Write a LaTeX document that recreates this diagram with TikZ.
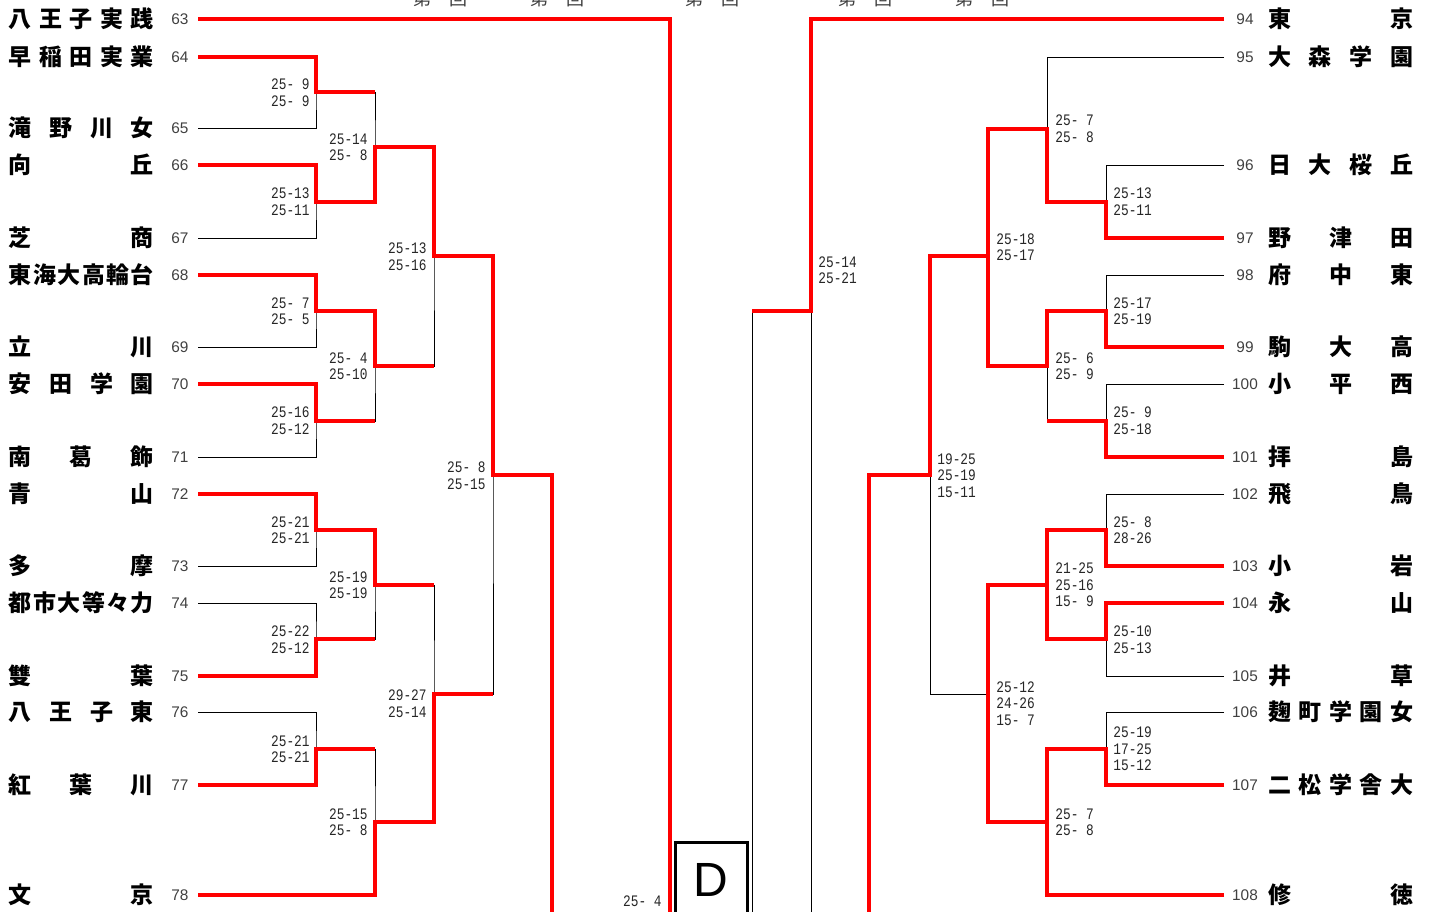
\documentclass[tikz,border=0pt]{standalone}
\usepackage{fontspec}
\usepackage{xcolor}
\usepackage{tikz}
\usetikzlibrary{positioning}
\newfontfamily\cjk{Noto Sans CJK JP}
\newfontfamily\scf{Liberation Mono}[FakeStretch=0.8]
\newfontfamily\numf{Liberation Sans}
\definecolor{numgray}{HTML}{404040}
\newcommand{\spr}[1]{\makebox[72.5pt][s]{#1}}

\begin{document}
\begin{tikzpicture}[x=0.5pt, y=-0.5pt,
  win/.style={draw=red, line width=2pt},
  lose/.style={draw=black, line width=0.5pt},
  tname/.style={inner sep=0pt, outer sep=0pt, font=\cjk\bfseries\fontsize{11.5}{12}\selectfont},
  lname/.style={tname, anchor=west},
  seed/.style={inner sep=0pt, outer sep=0pt, text=numgray, font=\numf\fontsize{7.7}{8}\selectfont},
  lseed/.style={seed, minimum width=18pt},
  rseed/.style={seed, minimum width=21pt},
  lscore/.style={inner sep=0pt, anchor=east, align=right, text=black!85, font=\scf\fontsize{8}{8.25}\selectfont},
  rscore/.style={lscore, anchor=west, align=left},
  roundhdr/.style={inner sep=0pt, text=numgray, font=\cjk\fontsize{9}{9}\selectfont},
  dbox/.style={draw, line width=1.5pt, minimum width=36pt, minimum height=38pt, font=\numf\fontsize{24}{24}\selectfont}
]
  \useasboundingbox (0,0) rectangle (1430,911);

  % round headings (cut by the top edge)
  \node[roundhdr] (h1) at (440,-1) {\makebox[27pt][s]{第\hfill 回}};
  \node[roundhdr] (h2) at (557,-1) {\makebox[27pt][s]{第\hfill 回}};
  \node[roundhdr] (h3) at (712,-1) {\makebox[27pt][s]{第\hfill 回}};
  \node[roundhdr] (h4) at (865,-1) {\makebox[27pt][s]{第\hfill 回}};
  \node[roundhdr] (h5) at (982,-1) {\makebox[27pt][s]{第\hfill 回}};

  % left teams
  \node[lname] (t63) at (9,19) {\spr{八\hfill 王\hfill 子\hfill 実\hfill 践}};
  \node[lname] (t64) at (9,57) {\spr{早\hfill 稲\hfill 田\hfill 実\hfill 業}};
  \node[lname] (t65) at (9,128) {\spr{滝\hfill 野\hfill 川\hfill 女}};
  \node[lname] (t66) at (9,165) {\spr{向\hfill 丘}};
  \node[lname] (t67) at (9,238) {\spr{芝\hfill 商}};
  \node[lname] (t68) at (9,275) {\spr{東\hfill 海\hfill 大\hfill 高\hfill 輪\hfill 台}};
  \node[lname] (t69) at (9,347) {\spr{立\hfill 川}};
  \node[lname] (t70) at (9,384) {\spr{安\hfill 田\hfill 学\hfill 園}};
  \node[lname] (t71) at (9,457) {\spr{南\hfill 葛\hfill 飾}};
  \node[lname] (t72) at (9,494) {\spr{青\hfill 山}};
  \node[lname] (t73) at (9,566) {\spr{多\hfill 摩}};
  \node[lname] (t74) at (9,603) {\spr{都\hfill 市\hfill 大\hfill 等\hfill 々\hfill 力}};
  \node[lname] (t75) at (9,676) {\spr{雙\hfill 葉}};
  \node[lname] (t76) at (9,712) {\spr{八\hfill 王\hfill 子\hfill 東}};
  \node[lname] (t77) at (9,785) {\spr{紅\hfill 葉\hfill 川}};
  \node[lname] (t78) at (9,895) {\spr{文\hfill 京}};

  \node[lseed] (n63) at (180,19) {63};
  \node[lseed] (n64) at (180,57) {64};
  \node[lseed] (n65) at (180,128) {65};
  \node[lseed] (n66) at (180,165) {66};
  \node[lseed] (n67) at (180,238) {67};
  \node[lseed] (n68) at (180,275) {68};
  \node[lseed] (n69) at (180,347) {69};
  \node[lseed] (n70) at (180,384) {70};
  \node[lseed] (n71) at (180,457) {71};
  \node[lseed] (n72) at (180,494) {72};
  \node[lseed] (n73) at (180,566) {73};
  \node[lseed] (n74) at (180,603) {74};
  \node[lseed] (n75) at (180,676) {75};
  \node[lseed] (n76) at (180,712) {76};
  \node[lseed] (n77) at (180,785) {77};
  \node[lseed] (n78) at (180,895) {78};

  % right teams
  \node[lname] (t94) at (1268,19) {\spr{東\hfill 京}};
  \node[lname] (t95) at (1268,57) {\spr{大\hfill 森\hfill 学\hfill 園}};
  \node[lname] (t96) at (1268,165) {\spr{日\hfill 大\hfill 桜\hfill 丘}};
  \node[lname] (t97) at (1268,238) {\spr{野\hfill 津\hfill 田}};
  \node[lname] (t98) at (1268,275) {\spr{府\hfill 中\hfill 東}};
  \node[lname] (t99) at (1268,347) {\spr{駒\hfill 大\hfill 高}};
  \node[lname] (t100) at (1268,384) {\spr{小\hfill 平\hfill 西}};
  \node[lname] (t101) at (1268,457) {\spr{拝\hfill 島}};
  \node[lname] (t102) at (1268,494) {\spr{飛\hfill 鳥}};
  \node[lname] (t103) at (1268,566) {\spr{小\hfill 岩}};
  \node[lname] (t104) at (1268,603) {\spr{永\hfill 山}};
  \node[lname] (t105) at (1268,676) {\spr{井\hfill 草}};
  \node[lname] (t106) at (1268,712) {\spr{麹\hfill 町\hfill 学\hfill 園\hfill 女}};
  \node[lname] (t107) at (1268,785) {\spr{二\hfill 松\hfill 学\hfill 舎\hfill 大}};
  \node[lname] (t108) at (1268,895) {\spr{修\hfill 徳}};

  \node[rseed] (n94) at (1245,19) {94};
  \node[rseed] (n95) at (1245,57) {95};
  \node[rseed] (n96) at (1245,165) {96};
  \node[rseed] (n97) at (1245,238) {97};
  \node[rseed] (n98) at (1245,275) {98};
  \node[rseed] (n99) at (1245,347) {99};
  \node[rseed] (n100) at (1245,384) {100};
  \node[rseed] (n101) at (1245,457) {101};
  \node[rseed] (n102) at (1245,494) {102};
  \node[rseed] (n103) at (1245,566) {103};
  \node[rseed] (n104) at (1245,603) {104};
  \node[rseed] (n105) at (1245,676) {105};
  \node[rseed] (n106) at (1245,712) {106};
  \node[rseed] (n107) at (1245,785) {107};
  \node[rseed] (n108) at (1245,895) {108};

  % match points
  \coordinate (L1) at (316,92);
  \coordinate (L2) at (316,202);
  \coordinate (L3) at (375,147);
  \coordinate (L4) at (316,311);
  \coordinate (L5) at (316,421);
  \coordinate (L6) at (375,366);
  \coordinate (L7) at (434,256);
  \coordinate (L8) at (316,530);
  \coordinate (L9) at (316,639);
  \coordinate (L10) at (375,585);
  \coordinate (L11) at (316,749);
  \coordinate (L12) at (375,822);
  \coordinate (L13) at (434,694);
  \coordinate (L14) at (493,475);
  \coordinate (lf) at (552,920);
  \coordinate (ld) at (670,920);

  \coordinate (R1) at (1106,202);
  \coordinate (R2) at (1047,129);
  \coordinate (R3) at (1106,311);
  \coordinate (R4) at (1106,421);
  \coordinate (R5) at (1047,366);
  \coordinate (R6) at (988,256);
  \coordinate (R7) at (1106,530);
  \coordinate (R8) at (1106,639);
  \coordinate (R9) at (1047,585);
  \coordinate (R10) at (1106,749);
  \coordinate (R11) at (1047,822);
  \coordinate (R12) at (988,694);
  \coordinate (R13) at (930,475);
  \coordinate (rf) at (869,920);
  \coordinate (F) at (811,311);
  \coordinate (rb) at (811,920);
  \coordinate (rc) at (752,920);

  % bracket lines
  \draw[lose] (n64.east) -| (L1) |- (n65.east);
  \draw[lose] (n66.east) -| (L2) |- (n67.east);
  \draw[lose] (L1) -| (L3) |- (L2);
  \draw[lose] (n68.east) -| (L4) |- (n69.east);
  \draw[lose] (n70.east) -| (L5) |- (n71.east);
  \draw[lose] (L4) -| (L6) |- (L5);
  \draw[lose] (L3) -| (L7) |- (L6);
  \draw[lose] (n72.east) -| (L8) |- (n73.east);
  \draw[lose] (n74.east) -| (L9) |- (n75.east);
  \draw[lose] (L8) -| (L10) |- (L9);
  \draw[lose] (n76.east) -| (L11) |- (n77.east);
  \draw[lose] (L11) -| (L12) |- (n78.east);
  \draw[lose] (L10) -| (L13) |- (L12);
  \draw[lose] (L7) -| (L14) |- (L13);

  \draw[lose] (n96.west) -| (R1) |- (n97.west);
  \draw[lose] (n95.west) -| (R2) |- (R1);
  \draw[lose] (n98.west) -| (R3) |- (n99.west);
  \draw[lose] (n100.west) -| (R4) |- (n101.west);
  \draw[lose] (R3) -| (R5) |- (R4);
  \draw[lose] (R2) -| (R6) |- (R5);
  \draw[lose] (n102.west) -| (R7) |- (n103.west);
  \draw[lose] (n104.west) -| (R8) |- (n105.west);
  \draw[lose] (R7) -| (R9) |- (R8);
  \draw[lose] (n106.west) -| (R10) |- (n107.west);
  \draw[lose] (R10) -| (R11) |- (n108.west);
  \draw[lose] (R9) -| (R12) |- (R11);
  \draw[lose] (R6) -| (R13) |- (R12);
  \draw[lose] (rc) |- (F) -- (rb);

  % winners
  \draw[win] (n63.east) -| (ld);
  \draw[win] (n64.east) -| (L1) -- (L1 -| L3);
  \draw[win] (n66.east) -| (L2) -| (L3) -| (L7) -| (L14) -| (lf);
  \draw[win] (n68.east) -| (L4) -| (L6) -- (L6 -| L7);
  \draw[win] (n70.east) -| (L5) -- (L5 -| L6);
  \draw[win] (n72.east) -| (L8) -| (L10) -- (L10 -| L13);
  \draw[win] (n75.east) -| (L9) -- (L9 -| L10);
  \draw[win] (n77.east) -| (L11) -- (L11 -| L12);
  \draw[win] (n78.east) -| (L12) -| (L13) -- (L13 -| L14);

  \draw[win] (n94.west) -| (F) -- (F -| rc);
  \draw[win] (n97.west) -| (R1) -| (R2) -| (R6) -| (R13) -| (rf);
  \draw[win] (n99.west) -| (R3) -| (R5) -| (R6);
  \draw[win] (n101.west) -| (R4) -- (R4 -| R5);
  \draw[win] (n103.west) -| (R7) -| (R9) -| (R12);
  \draw[win] (n104.west) -| (R8) -| (R9);
  \draw[win] (n107.west) -| (R10) -| (R11) -| (R12);
  \draw[win] (n108.west) -| (R11);

  % scores
  \node[lscore] (sL1) at (310,92.5) {25-~9\\25-~9};
  \node[lscore] (sL2) at (310,201.5) {25-13\\25-11};
  \node[lscore] (sL3) at (368,147) {25-14\\25-~8};
  \node[lscore] (sL4) at (310,311) {25-~7\\25-~5};
  \node[lscore] (sL5) at (310,420.5) {25-16\\25-12};
  \node[lscore] (sL6) at (368,366) {25-~4\\25-10};
  \node[lscore] (sL7) at (427,256.5) {25-13\\25-16};
  \node[lscore] (sL8) at (310,530) {25-21\\25-21};
  \node[lscore] (sL9) at (310,639.5) {25-22\\25-12};
  \node[lscore] (sL10) at (368,585) {25-19\\25-19};
  \node[lscore] (sL11) at (310,749) {25-21\\25-21};
  \node[lscore] (sL12) at (368,822) {25-15\\25-~8};
  \node[lscore] (sL13) at (427,703.5) {29-27\\25-14};
  \node[lscore] (sL14) at (486,475.5) {25-~8\\25-15};
  \node[lscore] (sLd) at (662,901) {25-~4};

  \node[rscore] (sR1) at (1113,201.5) {25-13\\25-11};
  \node[rscore] (sR2) at (1055,128.5) {25-~7\\25-~8};
  \node[rscore] (sR3) at (1113,311) {25-17\\25-19};
  \node[rscore] (sR4) at (1113,420.5) {25-~9\\25-18};
  \node[rscore] (sR5) at (1055,366) {25-~6\\25-~9};
  \node[rscore] (sR6) at (996,247) {25-18\\25-17};
  \node[rscore] (sR7) at (1113,530) {25-~8\\28-26};
  \node[rscore] (sR8) at (1113,639.5) {25-10\\25-13};
  \node[rscore] (sR9) at (1055,585) {21-25\\25-16\\15-~9};
  \node[rscore] (sR10) at (1113,749) {25-19\\17-25\\15-12};
  \node[rscore] (sR11) at (1055,822) {25-~7\\25-~8};
  \node[rscore] (sR12) at (996,703.5) {25-12\\24-26\\15-~7};
  \node[rscore] (sR13) at (937,475.5) {19-25\\25-19\\15-11};
  \node[rscore] (sF) at (818,270) {25-14\\25-21};

  % block letter
  \node[dbox] (blk) at (711,880) {D};
\end{tikzpicture}
\end{document}
